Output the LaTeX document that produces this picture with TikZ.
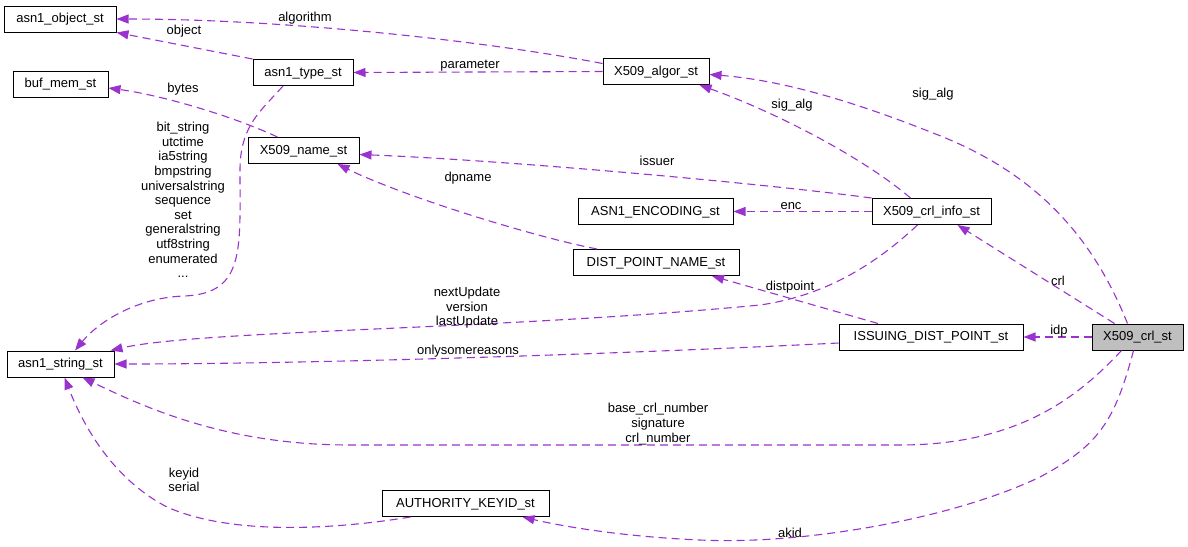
\documentclass[tikz,border=0pt]{standalone}
\usepackage{fontspec}
\setmainfont{Liberation Sans}
\usetikzlibrary{arrows.meta}
\definecolor{edgepurple}{HTML}{9A32CD}
\definecolor{mainfill}{HTML}{BFBFBF}

\begin{document}
\begin{tikzpicture}[x=1pt,y=-1pt,
    box/.style={draw=black,line width=1pt,fill=white,minimum height=26pt,inner sep=0pt,text height=9pt,text depth=2pt,font=\fontsize{13}{14.6}\selectfont},
    lbl/.style={align=center,inner sep=0pt,yshift=-2pt,font=\fontsize{13}{14.6}\selectfont},
    edge/.style={draw=edgepurple,line width=1.1pt,dash pattern=on 8pt off 5pt,-{Triangle[length=12pt,width=9pt]}}]
        \useasboundingbox (0,0) rectangle (1188,546);

        \node[box,minimum width=112pt] (obj) at (60,19) {asn1\_object\_st};
        \node[box,minimum width=95pt] (bufmem) at (60.5,84) {buf\_mem\_st};
        \node[box,minimum width=100pt] (type) at (303,72.5) {asn1\_type\_st};
        \node[box,minimum width=111pt] (name) at (303.5,150.5) {X509\_name\_st};
        \node[box,minimum width=106pt] (algor) at (656,71.5) {X509\_algor\_st};
        \node[box,minimum width=155pt] (enc) at (655.5,211.5) {ASN1\_ENCODING\_st};
        \node[box,minimum width=119pt] (crlinfo) at (931.5,211.5) {X509\_crl\_info\_st};
        \node[box,minimum width=166pt] (dpn) at (656,262.5) {DIST\_POINT\_NAME\_st};
        \node[box,minimum width=184pt] (idp) at (931,337) {ISSUING\_DIST\_POINT\_st};
        \node[box,minimum width=91pt,fill=mainfill] (crl) at (1137.5,337) {X509\_crl\_st};
        \node[box,minimum width=107pt] (string) at (60.5,364) {asn1\_string\_st};
        \node[box,minimum width=167pt] (akid) at (465.5,503.5) {AUTHORITY\_KEYID\_st};

        \draw[edge] ([yshift=8pt]algor.west) .. controls (480,40) and (280,19) .. (obj.east);
        \draw[edge] (type.north west) -- (obj.south east);
        \draw[edge] (algor.west) -- (type.east);
        \draw[edge] ([xshift=-26pt]name.north) .. controls (230,115) and (160,95) .. ([yshift=-4pt]bufmem.east);
        \draw[edge] ([xshift=-20pt]type.south) .. controls (262,110) and (240,125) .. (240,170)
            .. controls (240,250) and (245,293) .. (185,296)
            .. controls (140,297) and (100,320) .. ([xshift=14.5pt]string.north);
        \draw[edge] (crlinfo.north west) .. controls (750,182) and (500,160) .. ([yshift=-4pt]name.east);
        \draw[edge] ([xshift=-21pt]crlinfo.north) .. controls (860,155) and (770,110) .. ([xshift=-10pt]algor.south east);
        \draw[edge] (crlinfo.west) -- (enc.east);
        \draw[edge] ([xshift=-59pt]dpn.north) .. controls (530,236) and (400,195) .. ([xshift=34pt]name.south);
        \draw[edge] ([xshift=-14pt]crlinfo.south) .. controls (880,260) and (830,295) .. (760,305)
            .. controls (500,330) and (200,330) .. ([xshift=-4pt]string.north east);
        \draw[edge] ([xshift=-53pt]idp.north) -- ([xshift=56pt]dpn.south);
        \draw[edge] ([yshift=-6pt]idp.west) .. controls (600,355) and (300,364) .. (string.east);
        \draw[edge] ([xshift=-10pt]crl.north) .. controls (1090,230) and (1030,170) .. (933,133)
            .. controls (850,100) and (780,80) .. ([yshift=-3pt]algor.east);
        \draw[edge] ([xshift=-23pt]crl.north) -- ([xshift=26pt]crlinfo.south);
        \draw[edge] (crl.west) -- (idp.east);
        \draw[edge] ([xshift=-16pt]crl.south) .. controls (1080,395) and (1020,445) .. (900,445)
            -- (350,445) .. controls (230,445) and (150,410) .. ([xshift=22pt]string.south);
        \draw[edge] ([xshift=-55pt]akid.south) .. controls (330,530) and (230,535) .. (167,507)
            .. controls (115,480) and (85,430) .. ([xshift=4pt]string.south);
        \draw[edge] ([xshift=-4pt]crl.south) .. controls (1115,420) and (1100,445) .. (1040,477)
            .. controls (950,520) and (800,545) .. (700,540)
            .. controls (630,537) and (570,528) .. ([xshift=-27pt]akid.south east);

        \node[lbl] (lalgorithm) at (305,16) {algorithm};
        \node[lbl] (lobject) at (184,29) {object};
        \node[lbl] (lbytes) at (183,87) {bytes};
        \node[lbl] (lstrings) at (183,198) {bit\_string\\utctime\\ia5string\\bmpstring\\universalstring\\sequence\\set\\generalstring\\utf8string\\enumerated\\...};
        \node[lbl] (lparameter) at (470,64) {parameter};
        \node[lbl] (lissuer) at (657,159) {issuer};
        \node[lbl] (ldpname) at (468,176) {dpname};
        \node[lbl] (lsigalginfo) at (792,103) {sig\_alg};
        \node[lbl] (lenc) at (791,204) {enc};
        \node[lbl] (ldistpoint) at (790,285) {distpoint};
        \node[lbl] (lupdate) at (467,306) {nextUpdate\\version\\lastUpdate};
        \node[lbl] (lreasons) at (468,349) {onlysomereasons};
        \node[lbl] (lsigalg) at (933,92) {sig\_alg};
        \node[lbl] (lcrl) at (1058,279) {crl};
        \node[lbl] (lidp) at (1059,329) {idp};
        \node[lbl] (lnumbers) at (658,422) {base\_crl\_number\\signature\\crl\_number};
        \node[lbl] (lkeyid) at (184,478) {keyid\\serial};
        \node[lbl] (lakid) at (790,531) {akid};
      \end{tikzpicture}
\end{document}
